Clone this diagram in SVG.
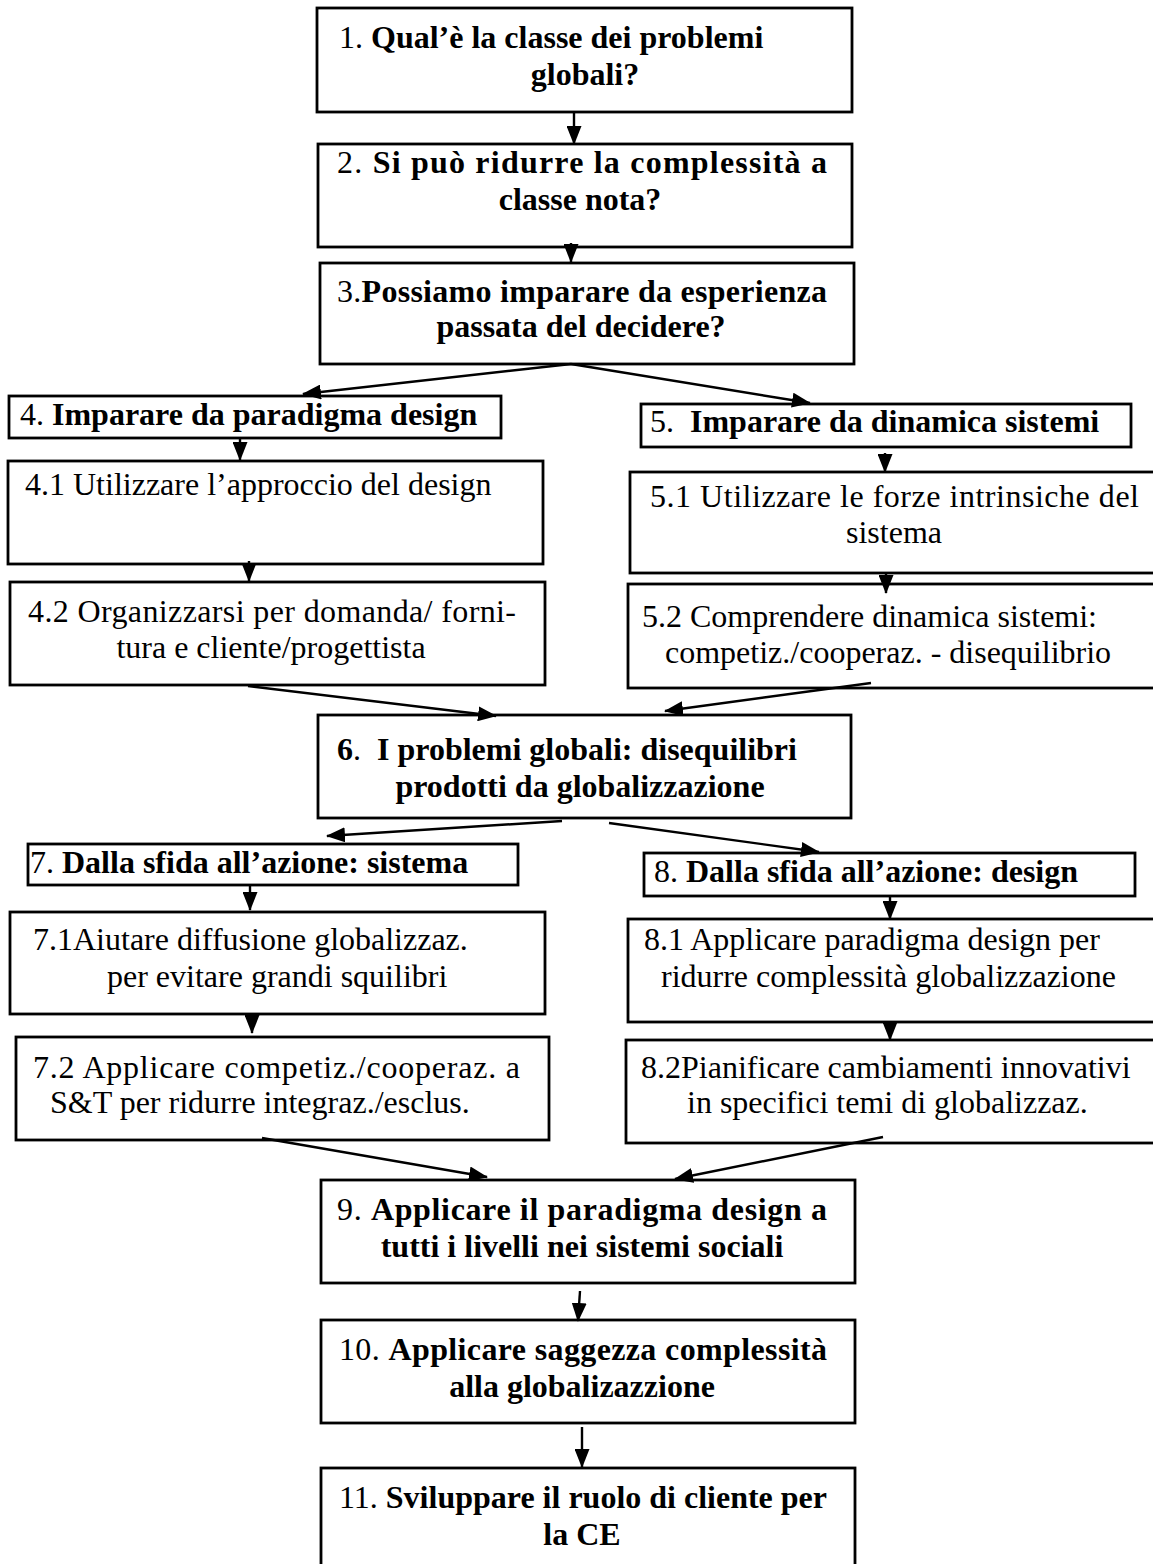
<svg xmlns="http://www.w3.org/2000/svg" width="1153" height="1564" viewBox="0 0 1153 1564">
<style>
.b{fill:#fff;stroke:#000;stroke-width:2.8}
text{font-family:"Liberation Serif","Times New Roman",serif;font-size:32px;fill:#000}
.bd{font-weight:bold}
.c{text-anchor:middle}
.e{stroke:#000;stroke-width:2.4;fill:none;marker-end:url(#ah)}
</style>
<defs>
<marker id="ah" markerUnits="userSpaceOnUse" markerWidth="19" markerHeight="15" viewBox="0 0 19 15" refX="18" refY="7.5" orient="auto">
<path d="M0,0 L19,7.5 L0,15 z" fill="#000"/>
</marker>
</defs>
<rect width="1153" height="1564" fill="#fff"/>
<g id="n1"><rect class="b" x="317" y="8" width="535" height="104"/>
<text x="339" y="48">1. <tspan class="bd">Qual’è la classe dei problemi</tspan></text>
<text class="c bd" x="585" y="85">globali?</text></g>
<g id="n2"><rect class="b" x="318" y="144" width="534" height="103"/>
<text x="337" y="173" textLength="490" lengthAdjust="spacing">2. <tspan class="bd">Si può ridurre la complessità a</tspan></text>
<text class="c bd" x="580" y="210">classe nota?</text></g>
<g id="n3"><rect class="b" x="320" y="263" width="534" height="101"/>
<text x="337" y="302" textLength="490" lengthAdjust="spacing">3.<tspan class="bd">Possiamo imparare da esperienza</tspan></text>
<text class="c bd" x="581" y="337">passata del decidere?</text></g>
<g id="n4"><rect class="b" x="9" y="396" width="492" height="42"/>
<text x="20" y="425">4. <tspan class="bd">Imparare da paradigma design</tspan></text></g>
<g id="n41"><rect class="b" x="8" y="461" width="535" height="103"/>
<text x="25" y="495">4.1 Utilizzare l’approccio del design</text></g>
<g id="n42"><rect class="b" x="10" y="582" width="535" height="103"/>
<text x="28" y="622" textLength="488" lengthAdjust="spacing">4.2 Organizzarsi per domanda/ forni-</text>
<text class="c" x="271" y="658">tura e cliente/progettista</text></g>
<g id="n5"><rect class="b" x="641" y="404" width="490" height="43"/>
<text x="650" y="432" xml:space="preserve">5.  <tspan class="bd">Imparare da dinamica sistemi</tspan></text></g>
<g id="n51"><rect class="b" x="630" y="472" width="535" height="101"/>
<text x="650" y="507" textLength="489" lengthAdjust="spacing">5.1 Utilizzare le forze intrinsiche del</text>
<text class="c" x="894" y="543">sistema</text></g>
<g id="n52"><rect class="b" x="628" y="584" width="537" height="104"/>
<text x="642" y="627">5.2 Comprendere dinamica sistemi:</text>
<text x="665" y="663">competiz./cooperaz. - disequilibrio</text></g>
<g id="n6"><rect class="b" x="318" y="715" width="533" height="103"/>
<text x="337" y="760" xml:space="preserve"><tspan class="bd">6</tspan>.  <tspan class="bd">I problemi globali: disequilibri</tspan></text>
<text class="c bd" x="580" y="797">prodotti da globalizzazione</text></g>
<g id="n7"><rect class="b" x="28" y="844" width="490" height="41"/>
<text x="30" y="873">7. <tspan class="bd">Dalla sfida all’azione: sistema</tspan></text></g>
<g id="n71"><rect class="b" x="10" y="912" width="535" height="102"/>
<text x="33" y="950">7.1Aiutare diffusione globalizzaz.</text>
<text x="107" y="987">per evitare grandi squilibri</text></g>
<g id="n72"><rect class="b" x="16" y="1037" width="533" height="103"/>
<text x="33" y="1078" textLength="487" lengthAdjust="spacing">7.2 Applicare competiz./cooperaz. a</text>
<text x="50" y="1113">S&amp;T per ridurre integraz./esclus.</text></g>
<g id="n8"><rect class="b" x="644" y="853" width="491" height="43"/>
<text x="654" y="882">8. <tspan class="bd">Dalla sfida all’azione: design</tspan></text></g>
<g id="n81"><rect class="b" x="628" y="919" width="537" height="103"/>
<text x="644" y="950">8.1 Applicare paradigma design per</text>
<text x="661" y="987">ridurre complessità globalizzazione</text></g>
<g id="n82"><rect class="b" x="626" y="1040" width="539" height="103"/>
<text x="641" y="1078">8.2Pianificare cambiamenti innovativi</text>
<text x="687" y="1113">in specifici temi di globalizzaz.</text></g>
<g id="n9"><rect class="b" x="321" y="1180" width="534" height="103"/>
<text x="337" y="1220" textLength="490" lengthAdjust="spacing">9. <tspan class="bd">Applicare il paradigma design a</tspan></text>
<text class="c bd" x="582" y="1257">tutti i livelli nei sistemi sociali</text></g>
<g id="n10"><rect class="b" x="321" y="1320" width="534" height="103"/>
<text x="339" y="1360" textLength="488" lengthAdjust="spacing">10. <tspan class="bd">Applicare saggezza complessità</tspan></text>
<text class="c bd" x="582" y="1397">alla globalizazzione</text></g>
<g id="n11"><rect class="b" x="321" y="1468" width="534" height="110"/>
<text x="339" y="1508" textLength="488" lengthAdjust="spacing">11. <tspan class="bd">Sviluppare il ruolo di cliente per</tspan></text>
<text class="c bd" x="582" y="1545">la CE</text></g>
<g id="edges">
<line class="e" x1="574" y1="112" x2="574" y2="144"/>
<line class="e" x1="571" y1="243" x2="571" y2="262"/>
<line class="e" x1="571" y1="364" x2="303" y2="394"/>
<line class="e" x1="571" y1="364" x2="810" y2="403"/>
<line class="e" x1="240" y1="438" x2="240" y2="460"/>
<line class="e" x1="249" y1="561" x2="249" y2="581"/>
<line class="e" x1="248" y1="686" x2="496" y2="716"/>
<line class="e" x1="885" y1="453" x2="885" y2="472"/>
<line class="e" x1="886" y1="574" x2="886" y2="593"/>
<line class="e" x1="871" y1="683" x2="665" y2="711"/>
<line class="e" x1="562" y1="821" x2="327" y2="836"/>
<line class="e" x1="609" y1="823" x2="819" y2="852"/>
<line class="e" x1="250" y1="886" x2="250" y2="910"/>
<line class="e" x1="252" y1="1014" x2="252" y2="1033"/>
<line class="e" x1="262" y1="1138" x2="487" y2="1177"/>
<line class="e" x1="890" y1="897" x2="890" y2="919"/>
<line class="e" x1="890" y1="1021" x2="890" y2="1040"/>
<line class="e" x1="883" y1="1137" x2="675" y2="1179"/>
<line class="e" x1="580" y1="1291" x2="578" y2="1321"/>
<line class="e" x1="582" y1="1427" x2="582" y2="1467"/>
</g>
</svg>
